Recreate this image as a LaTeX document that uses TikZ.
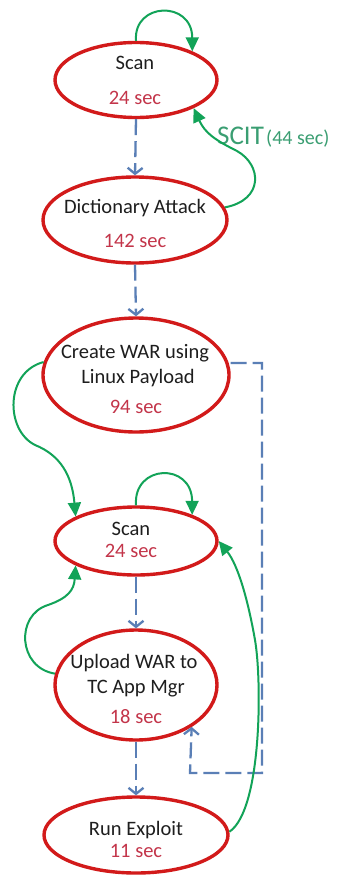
\documentclass[tikz,border=0pt]{standalone}
\usepackage{fontspec}
\setmainfont{Carlito}
\usetikzlibrary{shapes.geometric,arrows.meta}
\definecolor{ellred}{HTML}{D21A1A}
\definecolor{numred}{HTML}{C3354A}
\definecolor{txtblack}{HTML}{1E1E1E}
\definecolor{flowgreen}{HTML}{12A358}
\definecolor{scitgreen}{HTML}{3A9E72}
\definecolor{flowblue}{HTML}{5A7FB6}
\tikzset{
  state/.style={ellipse, draw=ellred, line width=3.4pt, inner sep=0pt},
  lbl/.style={anchor=base, inner sep=0pt, font=\fontsize{20.5}{24}\selectfont, text=txtblack},
  num/.style={anchor=base, inner sep=0pt, font=\fontsize{20.5}{24}\selectfont, text=numred},
  bluearrow/.style={draw=flowblue, line width=2.3pt, dash pattern=on 16pt off 6pt, -{Straight Barb[length=6pt,width=15pt,line width=2.3pt]}},
  greenarrow/.style={draw=flowgreen, line width=2pt, -{Triangle[length=14pt,width=13pt]}}
}
\begin{document}
\begin{tikzpicture}[x=1pt,y=-1pt]
\useasboundingbox (0,0) rectangle (339,875);
\fill[white] (0,0) rectangle (339,875);

% states
\node[state, minimum width=162pt, minimum height=75pt] (s1) at (136,80) {};
\node[state, minimum width=184pt, minimum height=86pt] (da) at (135,220) {};
\node[state, minimum width=186pt, minimum height=114pt] (cw) at (136,375) {};
\node[state, minimum width=162pt, minimum height=68pt] (s2) at (136,541) {};
\node[state, minimum width=162pt, minimum height=110pt] (up) at (136,685) {};
\node[state, minimum width=184pt, minimum height=76pt] (re) at (136,835) {};

% texts
\node[lbl] (s1a) at (135,70) {Scan};
\node[num] (s1b) at (135,104) {24 sec};
\node[lbl] (daa) at (135,213) {Dictionary Attack};
\node[num] (dab) at (135,247) {142 sec};
\node[lbl] (cwa) at (135,358) {Create WAR using};
\node[lbl] (cwb) at (138,383) {Linux Payload};
\node[num] (cwc) at (136,413) {94 sec};
\node[lbl] (s2a) at (131,535) {Scan};
\node[num] (s2b) at (131,557) {24 sec};
\node[lbl] (upa) at (134,668) {Upload WAR to};
\node[lbl] (upb) at (136,693) {TC App Mgr};
\node[num] (upc) at (136,723) {18 sec};
\node[lbl] (rea) at (136,835) {Run Exploit};
\node[num] (reb) at (136,857) {11 sec};

\node[anchor=base west, inner sep=0pt, text=scitgreen] (scit) at (217,144)
  {{\fontsize{27}{30}\selectfont SCIT} {\fontsize{20}{24}\selectfont (44 sec)}};

% blue dashed flow
\draw[bluearrow] (s1.south) -- (da.north);
\draw[bluearrow] (da.south) -- (cw.north);
\draw[bluearrow] (s2.south) -- (up.north);
\draw[bluearrow] (up.south) -- (re.north);
\coordinate (b1) at (262,363);
\coordinate (b2) at (262,773);
\coordinate (b3) at (190,773);
\draw[bluearrow] (cw.east |- b1) -- (b1) -- (b2) -- (b3) -- (up.-37);

% green transitions
\draw[greenarrow] (s1.north) .. controls (133,2) and (192,0) .. (s1.27);
\draw[greenarrow] (da.8) .. controls (264,200) and (262,165) .. (237,151)
   .. controls (215,140) and (205,133) .. (s1.-26);
\draw[greenarrow] (cw.172) .. controls (5,372) and (5,430) .. (35,445)
   .. controls (60,455) and (72,475) .. (s2.158);
\draw[greenarrow] (s2.north) .. controls (133,464) and (192,462) .. (s2.25);
\draw[greenarrow] (up.172) .. controls (18,668) and (15,615) .. (48,605)
   .. controls (68,598) and (74,590) .. (s2.202);
\draw[greenarrow] (re.2) .. controls (262,810) and (262,680) .. (255,640)
   .. controls (248,600) and (238,565) .. (s2.east);
\end{tikzpicture}
\end{document}
